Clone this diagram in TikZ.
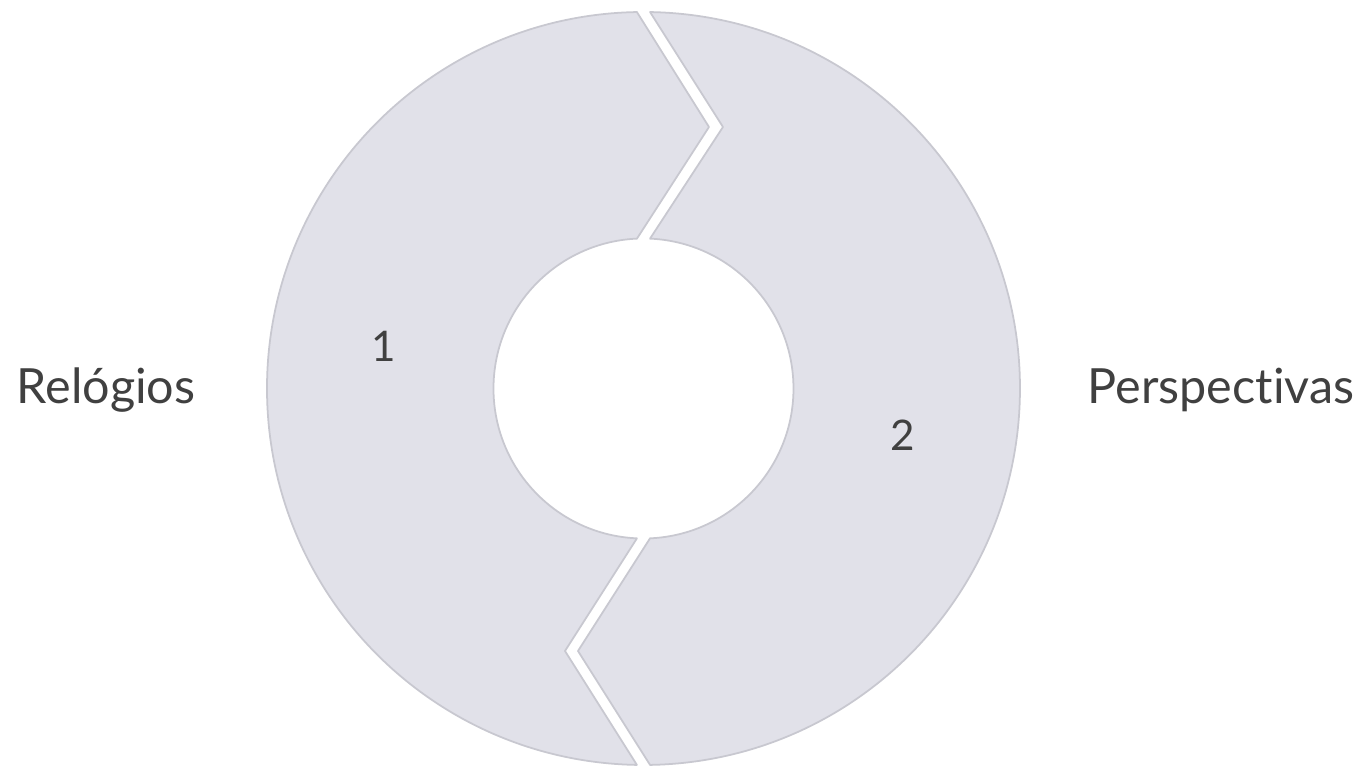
\documentclass[tikz,border=0pt]{standalone}
\usepackage{fontspec}
\setmainfont{Lato}[Ligatures={NoCommon}]
\usepackage{tikz}
\usetikzlibrary{positioning, calc}

\definecolor{ringfill}{RGB}{225,225,233}
\definecolor{ringline}{RGB}{200,200,208}
\definecolor{textgray}{RGB}{64,64,64}

\begin{document}
\begin{tikzpicture}[
    piece/.style={fill=ringfill, draw=ringline, line width=0.5pt, line join=round},
    label/.style={text=textgray, font=\fontsize{13.8}{16}\selectfont, inner sep=0pt},
    num/.style={text=textgray, font=\fontsize{12}{14}\selectfont, inner sep=0pt}
]
        % Рамка
        \useasboundingbox[fill=white] (-6.435, -3.775) rectangle (7.205, 3.885);

        % Левая часть
        \fill[piece] (91:3.765) arc (91:269:3.765)
            -- (-0.785, -2.625) -- (267.5:1.5)
            arc (267.5:92.5:1.5)
            -- (0.655, 2.615) -- cycle;

        % Правая часть
        \fill[piece] (89:3.765) arc (89:-89:3.765)
            -- (-0.655, -2.625) -- (-87.5:1.5)
            arc (-87.5:87.5:1.5)
            -- (0.795, 2.615) -- cycle;

        % Номера
        \node[num, anchor=base] (one) at (-2.595, 0.27) {1};
        \node[num, anchor=base] (two) at (2.595, -0.62) {2};

        % Подписи
        \node[label, anchor=base] (clocks) at (-5.375, -0.15) {Relógios};
        \node[label, anchor=base] (views) at (5.775, -0.15) {Perspectivas};
    \end{tikzpicture}
\end{document}
